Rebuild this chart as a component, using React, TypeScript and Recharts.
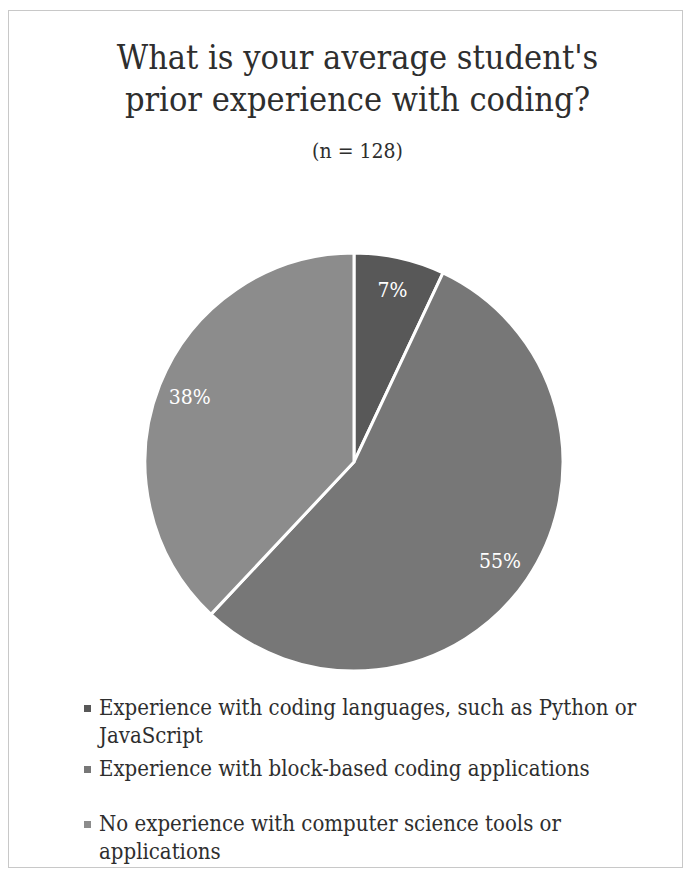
import React from "react";
import { PieChart, Pie, Cell } from "recharts";

const categories = [
  "Experience with coding languages, such as Python or JavaScript",
  "Experience with block-based coding applications",
  "No experience with computer science tools or applications",
];
const percents = [7, 55, 38];
const sliceColors = ["#585858", "#777777", "#8c8c8c"];
const titleLines = ["What is your average student's", "prior experience with coding?"];
const subtitle = "(n = 128)";

const data = categories.map((name, i) => ({ name, value: percents[i] }));

const FONT = "'DejaVu Serif Condensed', 'DejaVu Serif', serif";
const RAD = Math.PI / 180;

const renderLabel = (props: any) => {
  const { cx, cy, midAngle, outerRadius, value } = props;
  const r = outerRadius * 0.845;
  const x = cx + r * Math.cos(-midAngle * RAD);
  const y = cy + r * Math.sin(-midAngle * RAD);
  return (
    <text
      x={x}
      y={y}
      fill="#ffffff"
      fontSize={21}
      fontFamily={FONT}
      textAnchor="middle"
      dominantBaseline="central"
    >
      {`${value}%`}
    </text>
  );
};

const legendTops = [694, 755, 810];

export default function App() {
  return (
    <div
      style={{
        position: "absolute",
        left: 0,
        top: 0,
        width: 685,
        height: 879,
        background: "#ffffff",
        fontFamily: FONT,
        color: "#2e2e2e",
      }}
    >
      <div
        style={{
          position: "absolute",
          left: 8,
          top: 10,
          width: 675,
          height: 858,
          border: "1px solid #c8c8c8",
          boxSizing: "border-box",
        }}
      />
      {titleLines.map((t, i) => (
        <div
          key={t}
          style={{
            position: "absolute",
            left: 0,
            width: 715,
            top: 36 + i * 42,
            textAlign: "center",
            fontSize: 34,
            lineHeight: "42px",
            whiteSpace: "nowrap",
          }}
        >
          {t}
        </div>
      ))}
      <div
        style={{
          position: "absolute",
          left: 0,
          width: 715,
          top: 138,
          textAlign: "center",
          fontSize: 21,
          lineHeight: "26px",
        }}
      >
        {subtitle}
      </div>
      <div style={{ position: "absolute", left: 0, top: 240 }}>
        <PieChart width={708} height={444} margin={{ top: 0, right: 0, bottom: 0, left: 0 }}>
          <Pie
            data={data}
            dataKey="value"
            nameKey="name"
            cx={354}
            cy={222}
            outerRadius={209}
            startAngle={90}
            endAngle={-270}
            stroke="#ffffff"
            strokeWidth={3}
            label={renderLabel}
            labelLine={false}
            isAnimationActive={false}
          >
            {data.map((d, i) => (
              <Cell key={d.name} fill={sliceColors[i]} />
            ))}
          </Pie>
        </PieChart>
      </div>
      {categories.map((c, i) => (
        <div
          key={c}
          style={{
            position: "absolute",
            left: 84,
            top: legendTops[i],
            width: 580,
            display: "flex",
            alignItems: "flex-start",
            fontSize: 22,
            lineHeight: "28px",
          }}
        >
          <span
            style={{
              display: "inline-block",
              width: 7,
              height: 7,
              background: sliceColors[i],
              marginTop: 11,
              marginRight: 8,
              flex: "none",
            }}
          />
          <span>{c}</span>
        </div>
      ))}
    </div>
  );
}
